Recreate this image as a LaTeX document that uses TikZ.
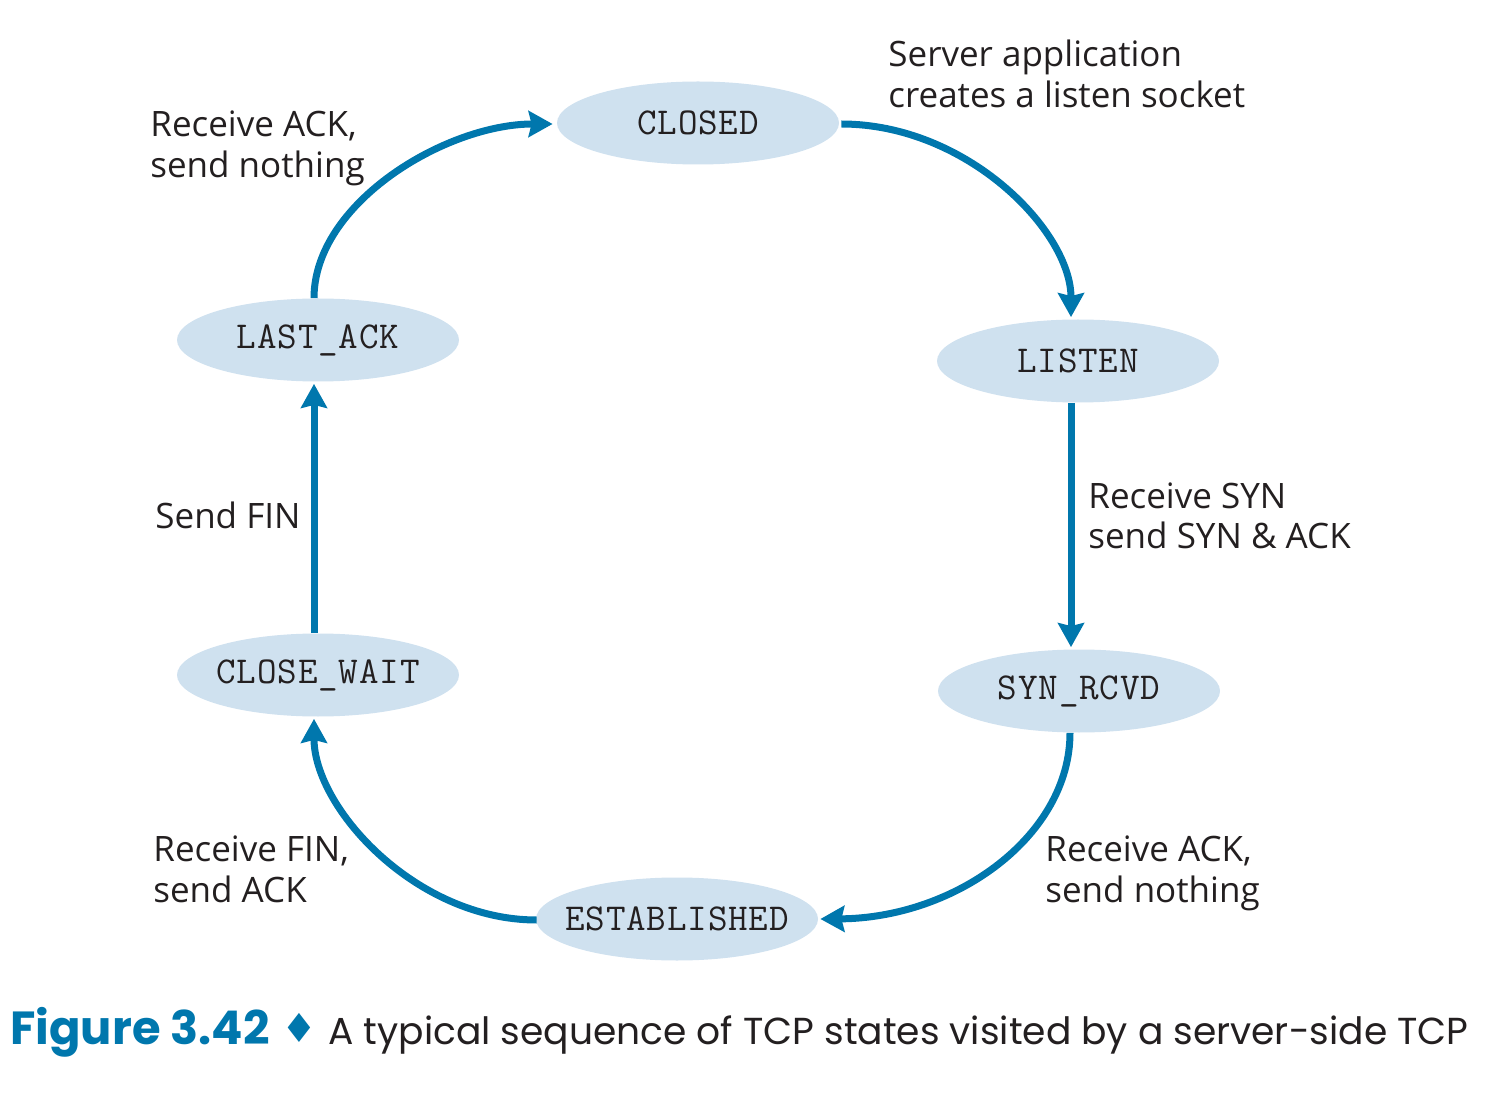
\documentclass[tikz,border=0pt]{standalone}
\usepackage{fontspec}
\setmainfont{Open Sans}
\newfontfamily\capfont{Poppins}
\newfontfamily\symfont{DejaVu Sans}
\newfontfamily\statefont{Latin Modern Mono}[LetterSpace=2.2]
\usetikzlibrary{arrows.meta,shapes.geometric,calc}
\definecolor{tcpblue}{HTML}{0077AD}
\definecolor{statefill}{HTML}{CFE1EF}
\definecolor{ink}{HTML}{231F20}
\begin{document}
\begin{tikzpicture}[x=0.5pt,y=-0.5pt,
  state/.style={ellipse,fill=statefill,draw=none,minimum width=141pt,minimum height=41.5pt,inner ysep=0pt,inner xsep=-20pt,
    font=\statefont\fontsize{19pt}{21pt}\selectfont,text=ink},
  trans/.style={draw=tcpblue,line width=3.5pt,-{Stealth[length=12pt,width=13pt,inset=1.5pt]}},
  lbl/.style={font=\fontsize{17.5pt}{20.5pt}\selectfont,text=ink,align=left,anchor=base west,inner sep=0pt}]
\useasboundingbox (0,0) rectangle (1500,1096);
\node[state] (closed) at (698,123) {CLOSED};
\node[state] (lastack) at (318,340) {LAST\_ACK};
\node[state] (listen) at (1078,361) {LISTEN};
\node[state] (closewait) at (318,675) {CLOSE\_WAIT};
\node[state] (synrcvd) at (1079,691) {SYN\_RCVD};
\node[state] (estab) at (677,919) {ESTABLISHED};
% connectors
\draw[trans] ($(lastack.north)+(-4,0)$) .. controls (314,203) and (446,124) .. ($(closed.west)+(-4,1)$);
\draw[trans] ($(closed.east)+(2,1)$) .. controls (967,124) and (1071,231) .. ($(listen.north)+(-7,-2)$);
\draw[trans] ($(listen.south)+(-7,0)$) -- ($(synrcvd.north)+(-8,-2)$);
\draw[trans] ($(synrcvd.south)+(-9,0)$) .. controls (1070,835) and (957,918) .. ($(estab.east)+(2,0)$);
\draw[trans] ($(estab.west)+(1,1)$) .. controls (416,920) and (314,808) .. ($(closewait.south)+(-4,2)$);
\draw[trans] ($(closewait.north)+(-4,0)$) -- ($(lastack.south)+(-4,2)$);
% labels (anchored at the baseline of the last line)
\node[lbl] (l1) at (150,178) {Receive ACK,\\send nothing};
\node[lbl] (l2) at (888,108) {Server application\\creates a listen socket};
\node[lbl] (l3) at (155,529) {Send FIN};
\node[lbl] (l4) at (1088,549) {Receive SYN\\send SYN \& ACK};
\node[lbl] (l5) at (153,902) {Receive FIN,\\send ACK};
\node[lbl] (l6) at (1045,902) {Receive ACK,\\send nothing};
% caption
\node[anchor=base west,inner sep=0pt,text=tcpblue,font=\capfont\bfseries\fontsize{23.2pt}{26pt}\selectfont] (fig) at (10,1044) {Figure 3.42};
\node[anchor=base,inner sep=0pt,text=tcpblue,font=\symfont\fontsize{20pt}{22pt}\selectfont] (dia) at (299,1042) {♦};
\node[anchor=base west,inner sep=0pt,text=ink,font=\capfont\fontsize{18.8pt}{22pt}\selectfont] (cap) at (328,1044) {A typical sequence of TCP states visited by a server-side TCP};
\end{tikzpicture}
\end{document}
